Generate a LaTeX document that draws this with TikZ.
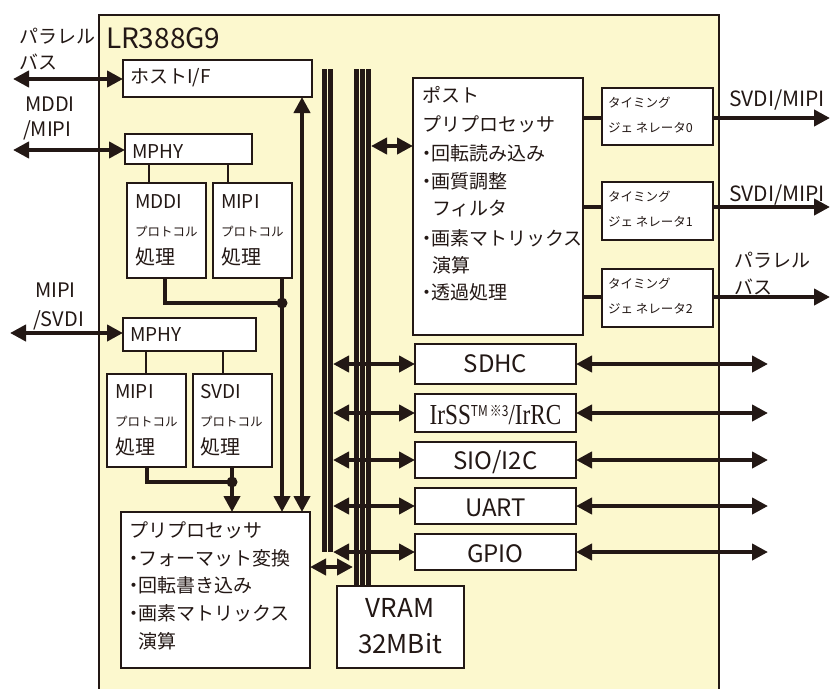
\documentclass[tikz,border=0pt]{standalone}
\usepackage{fontspec}
\usepackage{graphicx}
\setmainfont{Noto Sans CJK JP}
\newfontfamily\serifrm{Liberation Serif}
\usetikzlibrary{arrows.meta}
\definecolor{chip}{HTML}{FCF8CE}
\definecolor{ink}{HTML}{231815}
\newcommand\fs[1]{\fontsize{#1}{#1}\selectfont}
\newcommand\nk{\makebox[0.5em]{・}}
\begin{document}
\begin{tikzpicture}[x=1pt,y=-1pt,
  every node/.style={inner sep=0pt,outer sep=0pt,text=ink},
  box/.style={draw=ink,line width=2.8pt,fill=white,anchor=north west},
  lbl/.style={anchor=west},
  tip/.tip={Triangle[length=16pt,width=16pt]},
  dbl/.style={draw=ink,line width=4pt,{tip}-{tip}},
  sgl/.style={draw=ink,line width=4pt,-{tip}},
  wire/.style={draw=ink,line width=2.8pt},
  fat/.style={draw=ink,line width=4.5pt},
  busline/.style={draw=ink,line width=4.6pt},
  dot/.style={circle,fill=ink,minimum size=11pt}]
\useasboundingbox (0,0) rectangle (834,688);
% chip
\fill[chip] (99,15) rectangle (719,690);
\draw[ink,line width=2.6pt] (99,690) -- (99,15) -- (719,15) -- (719,690);
\node[anchor=base west,font=\fs{28}] (title) at (106,48) {LR388G9};
% boxes
\node[box,minimum width=189pt,minimum height=37pt] (host) at (123,60) {};
\node[box,minimum width=127pt,minimum height=30pt] (mphy1) at (125,134) {};
\node[box,minimum width=79pt,minimum height=95pt] (mddi) at (127,183) {};
\node[box,minimum width=79pt,minimum height=95pt] (mipi1) at (213,183) {};
\node[box,minimum width=133pt,minimum height=33pt] (mphy2) at (123,318) {};
\node[box,minimum width=79pt,minimum height=93pt] (mipi2) at (107,374) {};
\node[box,minimum width=79pt,minimum height=93pt] (svdi) at (193,374) {};
\node[box,minimum width=189pt,minimum height=156pt] (prepro) at (121,512) {};
\node[box,minimum width=170pt,minimum height=257pt] (post) at (413,78) {};
\node[box,minimum width=111pt,minimum height=57pt] (tg0) at (602,88) {};
\node[box,minimum width=111pt,minimum height=58pt] (tg1) at (602,182) {};
\node[box,minimum width=111pt,minimum height=58pt] (tg2) at (602,269) {};
\node[box,minimum width=161pt,minimum height=40pt] (sdhc) at (415,344) {};
\node[box,minimum width=161pt,minimum height=38pt] (irss) at (415,394) {};
\node[box,minimum width=161pt,minimum height=36pt] (sio) at (415,442) {};
\node[box,minimum width=161pt,minimum height=36pt] (uart) at (415,488) {};
\node[box,minimum width=161pt,minimum height=36pt] (gpio) at (415,534) {};
\node[box,minimum width=127pt,minimum height=82pt] (vram) at (337,586) {};
% buses
\coordinate (busLr) at (333,0);
\coordinate (busRl) at (353,0);
\coordinate (busRr) at (371,0);
\foreach \bx in {324.5,330.5} \draw[busline] (\bx,69) -- (\bx,552);
\foreach \bx in {356.5,362.5,368.5} \draw[busline] (\bx,69) -- (\bx,0 |- vram.north);
% left inputs
\coordinate (inHost) at (13,79);
\coordinate (inMddi) at (13,150);
\coordinate (inMipi) at (10,333);
\draw[dbl] (inHost) -- (inHost -| host.west);
\draw[dbl] (inMddi) -- (inMddi -| mphy1.west);
\draw[dbl] (inMipi) -- (inMipi -| mphy2.west);
% MPHY to protocol blocks
\draw[wire] (149,0 |- mphy1.south) -- (149,0 |- mddi.north);
\draw[wire] (228,0 |- mphy1.south) -- (228,0 |- mipi1.north);
\draw[wire] (146,0 |- mphy2.south) -- (146,0 |- mipi2.north);
\draw[wire] (223,0 |- mphy2.south) -- (223,0 |- svdi.north);
% junctions
\node[dot] (j1) at (282,303) {};
\node[dot] (j2) at (232,482) {};
\draw[wire,line width=3.2pt] (165,0 |- mddi.south) |- (j1);
\draw[wire,line width=3.2pt] (147,0 |- mipi2.south) |- (j2);
\draw[sgl] (282,0 |- mipi1.south) -- (282,0 |- prepro.north);
\draw[sgl] (232,0 |- svdi.south) -- (232,0 |- prepro.north);
\draw[dbl] (302,0 |- prepro.north) -- (302,0 |- host.south);
% bus connections
\draw[dbl] (prepro.east |- 0,567) -- (busRl |- 0,567);
\draw[dbl] (busRr |- 0,146) -- (post.west |- 0,146);
\foreach \p in {sdhc,irss,sio,uart,gpio}{
  \draw[dbl] (busLr |- \p.west) -- (\p.west);
  \coordinate (out-\p) at (768,0 |- \p.east);
  \draw[dbl] (\p.east) -- (out-\p);
}
% post to timing generators and outputs
\foreach \t/\yy in {tg0/118,tg1/207,tg2/297}{
  \draw[fat] (post.east |- 0,\yy) -- (\t.west |- 0,\yy);
  \coordinate (out-\t) at (830,\yy);
  \draw[sgl,line width=4.5pt] (\t.east |- 0,\yy) -- (out-\t);
}
% left labels
\node[lbl,font=\fs{19}] (lpar) at (19,36) {パラレル};
\node[lbl,font=\fs{19}] (lbus) at (19,62) {バス};
\node[lbl,font=\fs{20}] (lmddi) at (25,104) {MDDI};
\node[lbl,font=\fs{20}] (lmipi) at (23,130) {/MIPI};
\node[lbl,font=\fs{20}] (lmipi2) at (35,290) {MIPI};
\node[lbl,font=\fs{20}] (lsvdi) at (33,320) {/SVDI};
% right labels
\node[lbl,font=\fs{21}] (rsv0) at (729,100) {SVDI/MIPI};
\node[lbl,font=\fs{21}] (rsv1) at (729,195) {SVDI/MIPI};
\node[lbl,font=\fs{19}] (rpar) at (734,260) {パラレル};
\node[lbl,font=\fs{19}] (rbus) at (734,287) {バス};
% box texts
\node[lbl,font=\fs{19}] (thost) at (130,78) {ホストI/F};
\node[lbl,font=\fs{19}] (tmphy1) at (132,152) {MPHY};
\node[lbl,font=\fs{19}] (tmphy2) at (130,335) {MPHY};
\foreach \n/\xx/\yy/\name in {a/135/0/MDDI,b/221/0/MIPI,c/115/190/MIPI,d/200/190/SVDI}{
  \node[lbl,font=\fs{19}] (p1\n) at (\xx,202+\yy) {\name};
  \node[lbl,font=\fs{12.5}] (p2\n) at (\xx,232+\yy) {プロトコル};
  \node[lbl,font=\fs{20}] (p3\n) at (\xx,257+\yy) {処理};
}
\node[lbl,font=\fs{19}] (pr1) at (129,530) {プリプロセッサ};
\node[lbl,font=\fs{19}] (pr2) at (129,558) {\nk フォーマット変換};
\node[lbl,font=\fs{19}] (pr3) at (129,585) {\nk 回転書き込み};
\node[lbl,font=\fs{19}] (pr4) at (129,613) {\nk 画素マトリックス};
\node[lbl,font=\fs{19}] (pr5) at (138.5,641) {演算};
\node[lbl,font=\fs{19}] (po1) at (422,95) {ポスト};
\node[lbl,font=\fs{19}] (po2) at (422,124) {プリプロセッサ};
\node[lbl,font=\fs{19}] (po3) at (422,153) {\nk 回転読み込み};
\node[lbl,font=\fs{19}] (po4) at (422,181) {\nk 画質調整};
\node[lbl,font=\fs{19}] (po5) at (432,209) {フィルタ};
\node[lbl,font=\fs{19}] (po6) at (422,238) {\nk 画素マトリックス};
\node[lbl,font=\fs{19}] (po7) at (432,265) {演算};
\node[lbl,font=\fs{19}] (po8) at (422,292) {\nk 透過処理};
\foreach \t/\k in {tg0/0,tg1/1,tg2/2}{
  \node[lbl,font=\fs{12.5}] (\t a) at ([xshift=6pt,yshift=-15pt]\t.north west) {タイミング};
  \node[lbl,font=\fs{12.5}] (\t b) at ([xshift=6pt,yshift=-40pt]\t.north west) {ジェ ネレータ\k};
}
\node[font=\fs{24}] (tsdhc) at (sdhc.center) {SDHC};
\node (tirss) at ([yshift=-2pt]irss.center) {\scalebox{0.8}[1]{\serifrm\fs{29}IrSS\raisebox{8pt}{\normalfont\fs{15}TM\,※3}/IrRC}};
\node[font=\fs{24}] (tsio) at ([yshift=-2pt]sio.center) {SIO/I2C};
\node[font=\fs{24}] (tuart) at ([yshift=-2pt]uart.center) {UART};
\node[font=\fs{24}] (tgpio) at ([yshift=-2pt]gpio.center) {GPIO};
\node[font=\fs{26}] (tvram1) at (400,608) {VRAM};
\node[font=\fs{26}] (tvram2) at (400,644) {32MBit};
\end{tikzpicture}
\end{document}
